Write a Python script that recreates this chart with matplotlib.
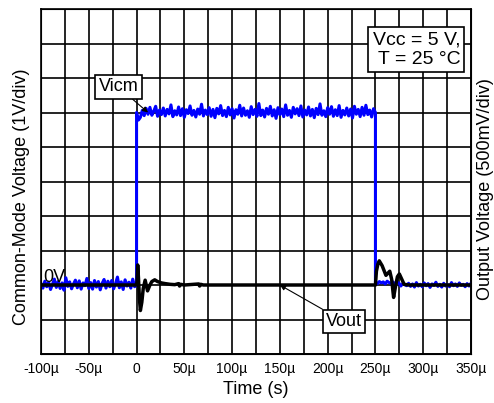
import numpy as np
import matplotlib
matplotlib.use("Agg")
import matplotlib.pyplot as plt

plt.rcParams['font.family'] = ['Liberation Sans', 'DejaVu Sans']

# ---- data (time in microseconds) ----
xticks = [-100, -50, 0, 50, 100, 150, 200, 250, 300, 350]
xticklabels = ['-100µ', '-50µ', '0', '50µ', '100µ', '150µ', '200µ', '250µ', '300µ', '350µ']

# Vicm noise (centivolts), low level before step
vicm_low_cv = [4, -9, 11, -5, 8, -13, 2, 17, -7, 10, -10, 6, -15, 21, -4, 9, -11, 3, 14, -8,
               12, -12, 6, -2, 19, -10, 7, -12, 13, -6, 10, -14, 5, 16, -9, 11, -5, 13, -11, 4,
               23, -8, 9, -13, 15, -3, 8, -9, 17, -5, 0]
# Vicm high level (5 V) noise, centivolts
vicm_high_level = 5.0
vicm_high_cv = [0, -22, -14, 6, -9, 12, -5, 15, -8, 4, 18, -11, 7, -6, 13, -10, 9, -4, 22, -12,
                5, -7, 16, -9, 11, -14, 8, -3, 19, -8, 6, -13, 10, -5, 24, -10, 7, -6, 14, -11,
                9, -15, 12, -4, 20, -9, 6, -12, 15, -7, 11, -16, 8, -5, 21, -10, 13, -8, 5, -14,
                17, -6, 9, -11, 26, -9, 7, -13, 12, -5, 18, -10, 8, -17, 14, -6, 10, -12, 22, -8,
                6, -14, 15, -4, 11, -9, 19, -13, 7, -7, 16, -10, 9, -15, 12, -6, 25, -8, 5, -12,
                14, -5, 17, -11, 8, -9, 20, -14, 6, -7, 13, -10, 10, -16, 18, -5, 9, -12, 15, -8,
                21, -6, 7, -13, 11, 0]
# Vicm after falling edge, centivolts
vicm_post_cv = [8, 4, 10, 6, 9, 3, 11, 7, 5, 9, 2, 8, 6, -3, 4, 1, -2, 5, -4, 3,
                -6, 7, -3, 2, -5, 6, -2, 4, -7, 3, -1, 8, -4, 2, -6, 5, -3, 1, -5, 7,
                -2, 3, -4, 6, -1, 2, -5, 4, -3, 5]

# Vout (V) ringing
vout_t = [-100, 0, 0.5, 1.2, 2, 3, 4, 5.5, 7, 9, 11.5, 14, 16, 19, 22, 26, 30, 35, 40,
          44, 45, 46, 50, 65, 66, 67, 70, 250, 251, 252.5, 254, 257, 261, 263, 265, 267,
          269, 271, 273, 275, 277, 280, 285, 350]
vout_v = [0, 0, 0.05, 0.29, 0.1, -0.2, -0.37, -0.25, -0.05, 0.07, -0.085, 0.0, 0.05, 0.075,
          0.05, 0.03, 0.02, 0.01, 0.005, 0.02, -0.015, 0.01, 0, 0.015, -0.015, 0.01, 0, 0,
          0.2, 0.3, 0.35, 0.28, 0.14, 0.17, 0.2, 0.08, -0.18, -0.02, 0.12, 0.16, 0.1, 0.01, 0, 0]

# ---- build traces ----
t_low = np.linspace(-100, 0, len(vicm_low_cv))
v_low = np.array(vicm_low_cv) / 100.0
t_high = np.linspace(0, 250, len(vicm_high_cv))
v_high = vicm_high_level + np.array(vicm_high_cv) / 100.0
t_post = np.linspace(250, 350, len(vicm_post_cv))
v_post = np.array(vicm_post_cv) / 100.0
t_vicm = np.concatenate([t_low, t_high, t_post])
v_vicm = np.concatenate([v_low, v_high, v_post])

fig = plt.figure(figsize=(4.94, 4.03), dpi=100)
ax = fig.add_axes([41/494, 1-354/403, 430/494, 345/403])
ax.set_xlim(-100, 350)
ax.set_ylim(-2, 8)
ax.set_xticks(xticks)
ax.set_xticklabels(xticklabels, fontsize=10)
ax.set_xticks(np.arange(-100, 351, 25), minor=True)
ax.set_yticks(np.arange(-2, 9, 1))
ax.set_yticklabels([])
ax.tick_params(which='both', length=0, pad=6)
ax.grid(True, which='both', color='black', lw=1.2)
for s in ax.spines.values():
    s.set_linewidth(1.2)
ax.plot(t_vicm, v_vicm, color='#0000FF', lw=2.2)
ax.set_xlabel('Time (s)', fontsize=13, labelpad=3)
ax.set_ylabel('Common-Mode Voltage (1V/div)', fontsize=13)
ax.yaxis.set_label_coords(-0.026, 0.455)

ax2 = ax.twinx()
ax2.set_ylim(-1, 4)
ax2.set_yticks([])
ax2.plot(vout_t, vout_v, color='black', lw=2.5)
ax2.set_ylabel('Output Voltage (500mV/div)', fontsize=13)
ax2.yaxis.set_label_coords(1.014, 0.478)

ax2.text(0.005, 0.209, '0V', transform=ax.transAxes, fontsize=13, va='baseline', ha='left')

bbox = dict(boxstyle='square,pad=0.18', fc='white', ec='black', lw=1.2)
ax2.annotate('Vicm', xy=(12, 2.5), xycoords='data', xytext=(0.180, 0.774), textcoords='axes fraction',
             fontsize=13, ha='center', va='center', bbox=bbox,
             arrowprops=dict(arrowstyle='-|>', color='black', lw=0.8, mutation_scale=8, shrinkA=0, shrinkB=0))
ax2.annotate('Vout', xy=(150, 0), xycoords='data', xytext=(0.705, 0.094), textcoords='axes fraction',
             fontsize=13, ha='center', va='center', bbox=bbox,
             arrowprops=dict(arrowstyle='-|>', color='black', lw=0.8, mutation_scale=8, shrinkA=0, shrinkB=0))
ax2.text(0.873, 0.883, 'Vcc = 5 V,\nT = 25 °C', transform=ax.transAxes, fontsize=14,
         ha='center', va='center', multialignment='right', linespacing=1.2,
         bbox=dict(boxstyle='square,pad=0.22', fc='white', ec='black', lw=1.2))

fig.savefig('out.png', dpi=100)
